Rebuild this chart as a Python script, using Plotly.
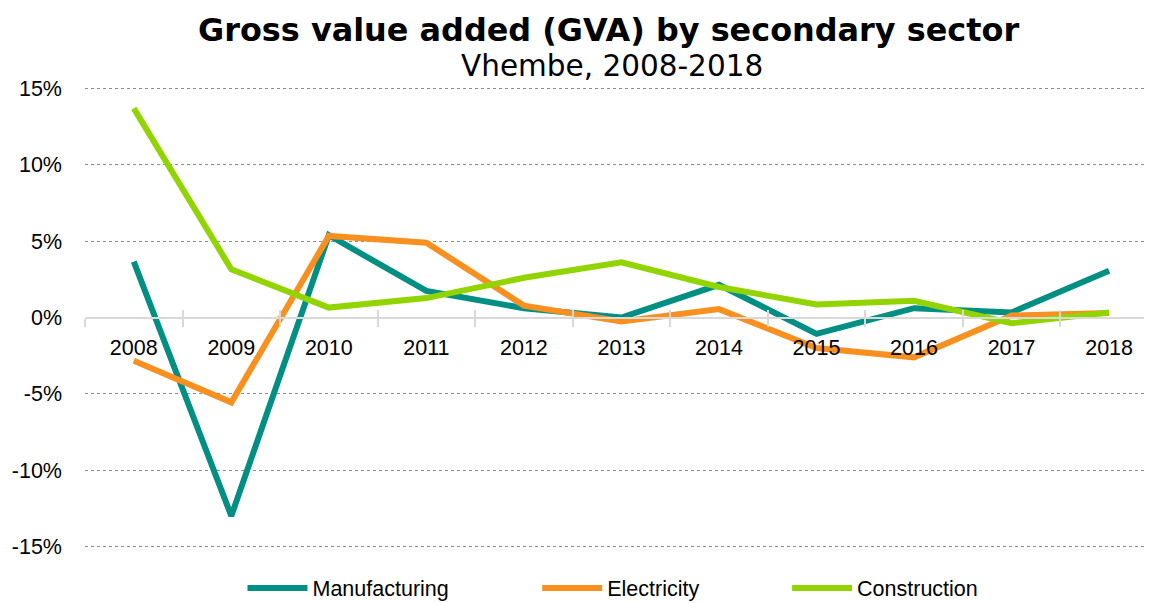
import plotly.graph_objects as go

years = ['2008', '2009', '2010', '2011', '2012', '2013', '2014', '2015', '2016', '2017', '2018']
manufacturing = [3.66, -13.0, 5.39, 1.74, 0.61, 0.0, 2.14, -1.07, 0.61, 0.33, 3.07]
electricity = [-2.83, -5.56, 5.34, 4.9, 0.78, -0.26, 0.55, -2.0, -2.61, 0.13, 0.3]
construction = [13.7, 3.16, 0.65, 1.27, 2.6, 3.62, 2.0, 0.85, 1.09, -0.37, 0.33]

y_tickvals = [-15, -10, -5, 0, 5, 10, 15]
y_ticktext = ['-15%', '-10%', '-5%', '0%', '5%', '10%', '15%']

series = [
    ('Manufacturing', manufacturing, '#008F82', 'legend', 0.1476),
    ('Electricity', electricity, '#F7901E', 'legend2', 0.4238),
    ('Construction', construction, '#92D400', 'legend3', 0.658),
]

fig = go.Figure()

for name, vals, color, leg, lx in series:
    fig.add_trace(go.Scatter(
        x=years, y=vals, name=name, mode='lines',
        line=dict(color=color, width=6),
        legend=leg,
    ))

# invisible copy so the second x axis (inner tick marks) gets its categories
fig.add_trace(go.Scatter(
    x=years, y=manufacturing, xaxis='x2', mode='lines',
    line=dict(width=0), opacity=0, showlegend=False, hoverinfo='skip',
))

legend_style = dict(
    orientation='h', yanchor='middle', y=-0.087, xanchor='left',
    font=dict(family='Liberation Sans', size=21.5, color='black'),
    bgcolor='rgba(0,0,0,0)', itemwidth=60,
)
legends = {}
for name, vals, color, leg, lx in series:
    legends[leg] = dict(legend_style, x=lx)

# the page body has an 8px margin, so the figure is 8px smaller each way
fig.update_layout(
    width=1144, height=595,
    margin=dict(l=77, r=0, t=79, b=55, autoexpand=False),
    plot_bgcolor='white', paper_bgcolor='white',
    font=dict(family='Liberation Sans', size=21.5, color='black'),
    xaxis=dict(
        type='category', range=[-0.5, 10.44],
        anchor='free', position=0.5,
        showline=True, linecolor='#D9D9D9', linewidth=2,
        ticks='outside', tickson='boundaries', ticklen=8, tickwidth=2, tickcolor='#D9D9D9',
        ticklabelstandoff=11,
        showgrid=False, zeroline=False,
        tickfont=dict(family='Liberation Sans', size=21.5, color='black'),
    ),
    xaxis2=dict(
        type='category', range=[-0.5, 10.44], overlaying='x',
        anchor='free', position=0.5, side='bottom',
        ticks='inside', tickson='boundaries', ticklen=8, tickwidth=2, tickcolor='#D9D9D9',
        showticklabels=False, showline=False, showgrid=False, zeroline=False,
    ),
    yaxis=dict(
        range=[-15.1, 15.1], tickvals=y_tickvals, ticktext=y_ticktext,
        showgrid=True, gridcolor='#8C8C8C', griddash='dot', gridwidth=1,
        zeroline=False, showline=False, ticks='',
        ticklabelstandoff=22,
        tickfont=dict(family='Liberation Sans', size=21.5, color='black'),
    ),
    showlegend=True,
    **legends,
)

fig.add_annotation(
    text='<b>Gross value added (GVA) by secondary sector</b>',
    xref='paper', yref='paper', x=0.491, y=1.124, xanchor='center', yanchor='middle',
    showarrow=False, font=dict(family='DejaVu Sans', size=31.9, color='black'),
)
fig.add_annotation(
    text='Vhembe, 2008-2018',
    xref='paper', yref='paper', x=0.494, y=1.046, xanchor='center', yanchor='middle',
    showarrow=False, font=dict(family='DejaVu Sans', size=29.5, color='black'),
)

fig.write_html('out.html')
